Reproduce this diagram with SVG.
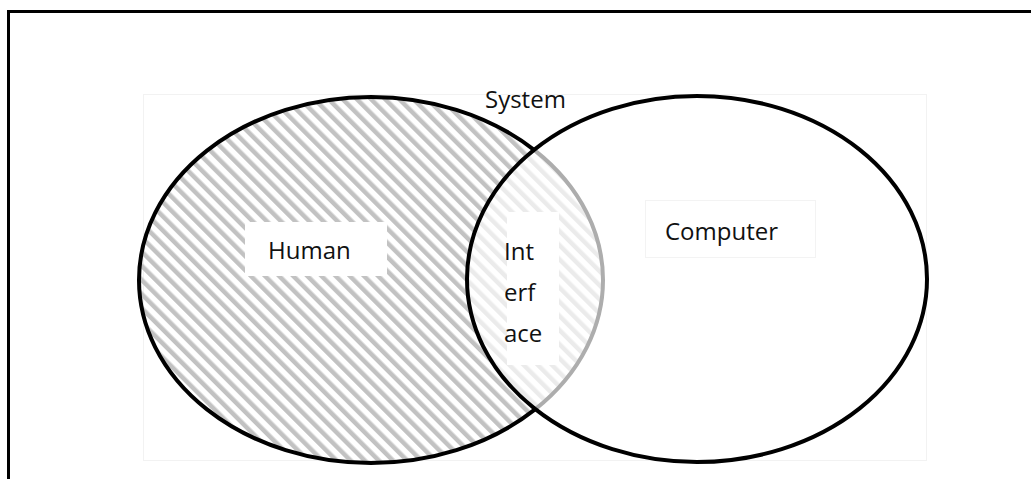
<svg xmlns="http://www.w3.org/2000/svg" width="1031" height="479" viewBox="0 0 1031 479">
  <defs>
    <pattern id="hatch" patternUnits="userSpaceOnUse" width="10" height="10" patternTransform="rotate(-45)">
      <rect x="0" y="0" width="4.5" height="10" fill="#c2c2c2"/>
    </pattern>
    <style>
      .ell { stroke: #000; stroke-width: 4; }
      .box { fill: #fff; }
      .lbl { font-family: "Open Sans", "Noto Sans", sans-serif; font-size: 24px; fill: #111; }
    </style>
  </defs>
  <rect x="0" y="0" width="1031" height="479" fill="#fff"/>
  <rect x="8.5" y="11.5" width="1040" height="480" fill="none" stroke="#000" stroke-width="3"/>
  <rect x="143.5" y="94.5" width="783" height="366" fill="none" stroke="#f2f2f2" stroke-width="1"/>
  <g id="human">
    <ellipse cx="371" cy="280" rx="232" ry="183" fill="url(#hatch)" class="ell"/>
  </g>
  <g id="computer">
    <ellipse cx="697" cy="279" rx="230" ry="183" fill="#fff" fill-opacity="0.68" class="ell"/>
  </g>
  <g id="connectors"></g>
  <g id="label-system">
    <text class="lbl" x="485" y="108">System</text>
  </g>
  <g id="label-human">
    <rect class="box" x="245" y="222" width="142" height="54"/>
    <text class="lbl" x="268" y="259">Human</text>
  </g>
  <g id="label-interface">
    <rect class="box" x="507" y="212" width="52" height="153"/>
    <text class="lbl" x="504" y="260">Int</text>
    <text class="lbl" x="504" y="301">erf</text>
    <text class="lbl" x="504" y="342">ace</text>
  </g>
  <g id="label-computer">
    <rect class="box" x="645.5" y="200.5" width="170" height="57" stroke="#f3f3f3" stroke-width="1"/>
    <text class="lbl" x="665" y="240">Computer</text>
  </g>
</svg>
